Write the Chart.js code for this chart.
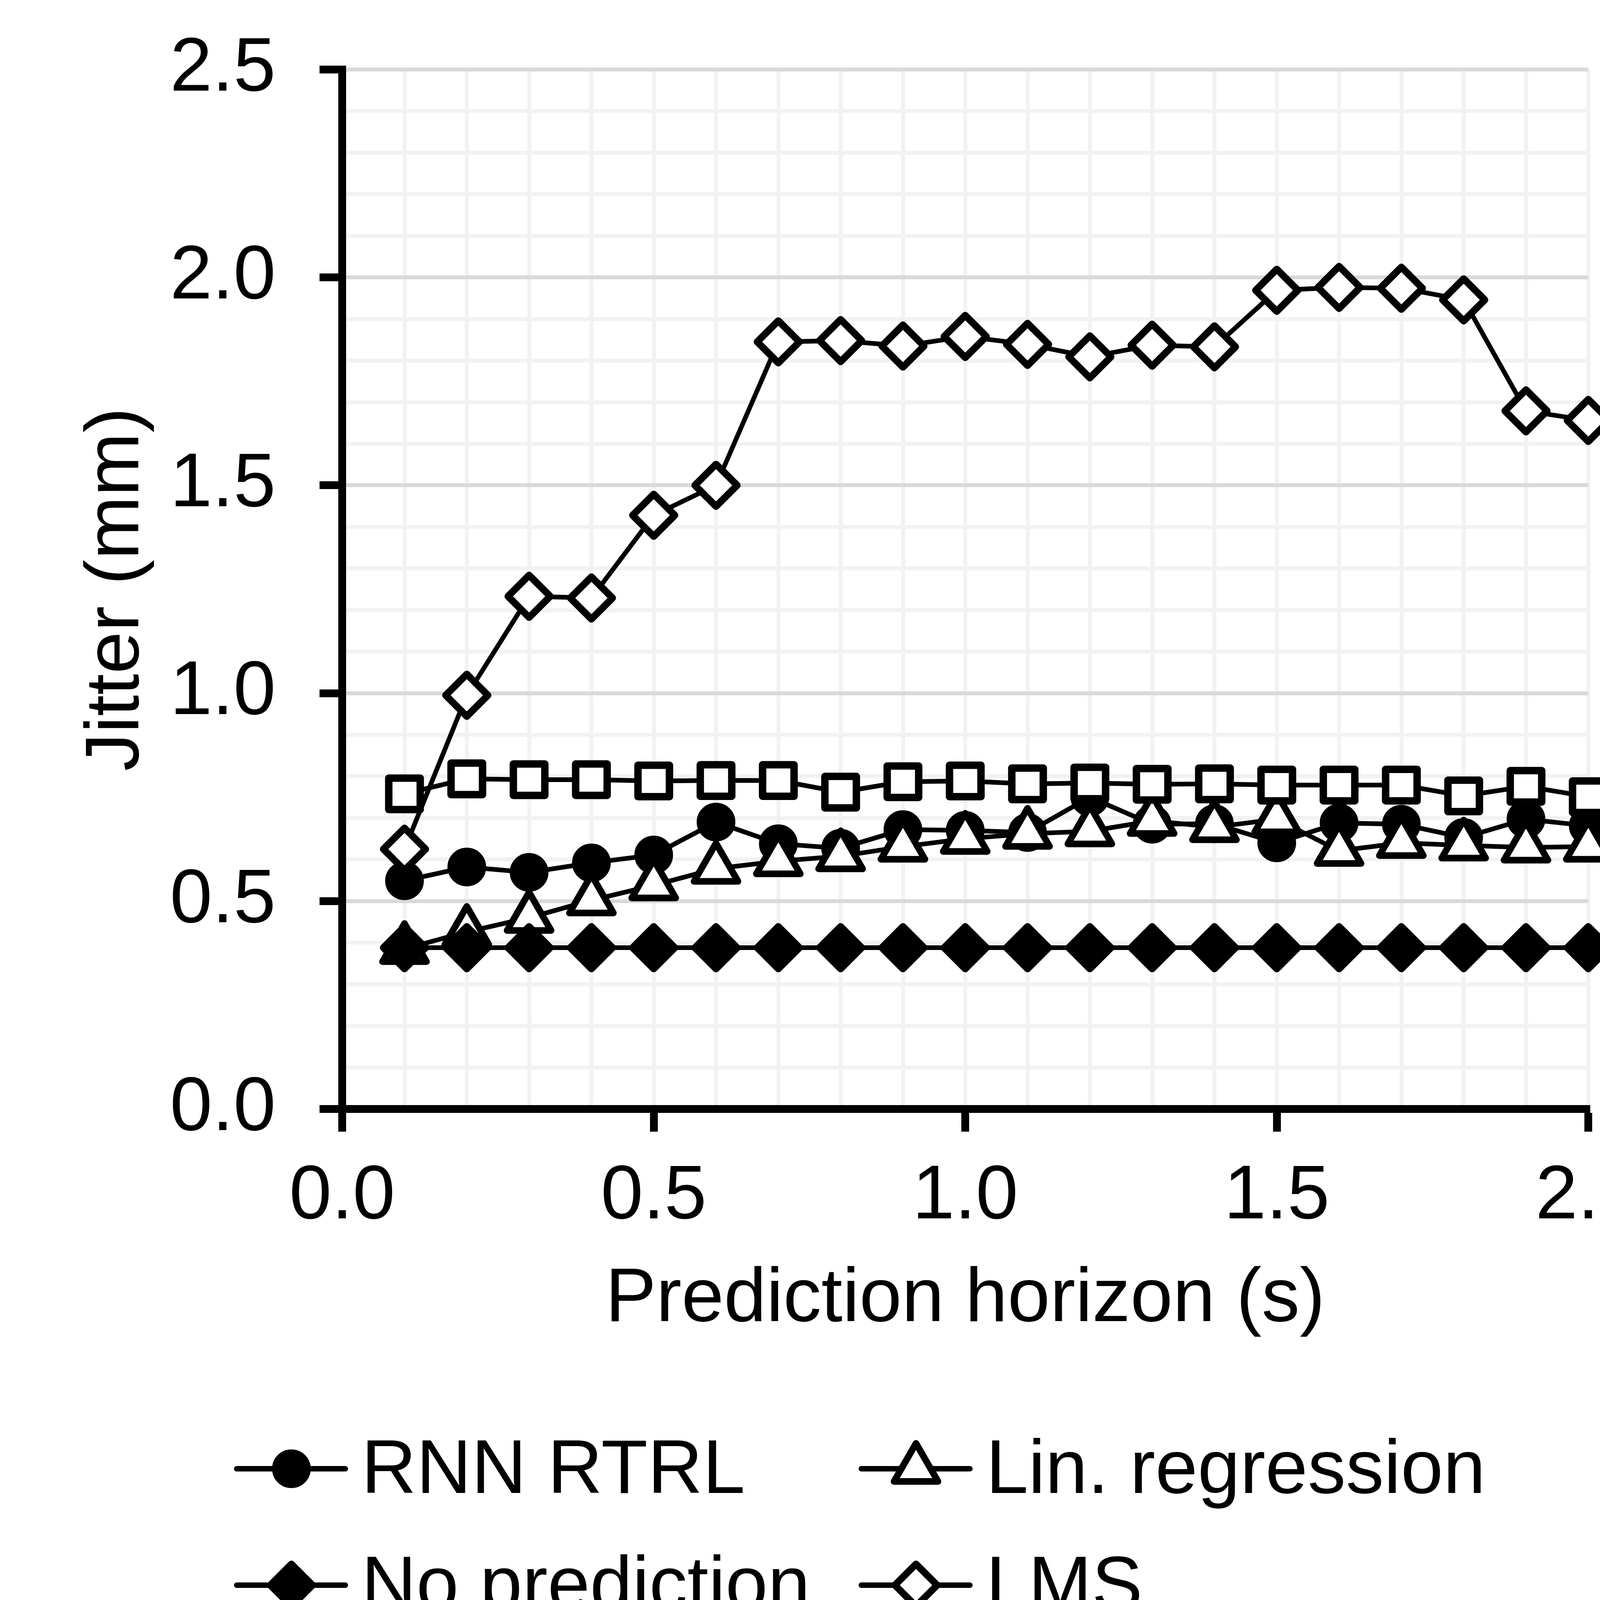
<!DOCTYPE html>
<html>
<head>
<meta charset="utf-8">
<title>Jitter vs prediction horizon</title>
<script src="https://cdn.jsdelivr.net/npm/chart.js@4.4.0/dist/chart.umd.min.js"></script>
<style>
  html, body { margin: 0; padding: 0; background: #fff; }
  canvas { display: block; }
</style>
</head>
<body>
<canvas id="chart" width="4354" height="4570"></canvas>
<script>
// === Dados ===
const horizons = [0.1, 0.2, 0.3, 0.4, 0.5, 0.6, 0.7, 0.8, 0.9, 1.0,
                  1.1, 1.2, 1.3, 1.4, 1.5, 1.6, 1.7, 1.8, 1.9, 2.0];

const rnnRtrl  = [0.549, 0.582, 0.569, 0.592, 0.611, 0.690, 0.638, 0.627, 0.672, 0.670,
                  0.665, 0.750, 0.685, 0.686, 0.640, 0.688, 0.685, 0.653, 0.697, 0.681];
const linReg   = [0.385, 0.426, 0.460, 0.502, 0.538, 0.578, 0.596, 0.608, 0.631, 0.650,
                  0.662, 0.668, 0.693, 0.678, 0.697, 0.621, 0.640, 0.634, 0.629, 0.631];
const noPred   = [0.388, 0.388, 0.388, 0.388, 0.388, 0.388, 0.388, 0.388, 0.388, 0.388,
                  0.388, 0.388, 0.388, 0.388, 0.388, 0.388, 0.388, 0.388, 0.388, 0.388];
const lms      = [0.625, 0.995, 1.233, 1.229, 1.428, 1.500, 1.845, 1.848, 1.835, 1.858,
                  1.839, 1.809, 1.837, 1.833, 1.969, 1.976, 1.974, 1.946, 1.679, 1.656];
const rnnUoro  = [0.758, 0.794, 0.792, 0.792, 0.789, 0.790, 0.790, 0.762, 0.787, 0.789,
                  0.782, 0.784, 0.781, 0.782, 0.779, 0.779, 0.779, 0.753, 0.776, 0.751];

// ordem da legenda (preenche linha a linha, 2 colunas)
const seriesLabels = ['RNN RTRL', 'Lin. regression', 'No prediction', 'LMS', 'RNN UORO'];
const seriesValues = [rnnRtrl, linReg, noPred, lms, rnnUoro];

const xMin = 0, xMax = 2.0, xStep = 0.1;
const yMin = 0, yMax = 2.5, yStep = 0.1;
const majorEvery = 0.5;

// === Estilo ===
const FONT = "'Liberation Sans', Arial, sans-serif";
const FONT_SIZE = 195;

const markerStyles = {
  'RNN RTRL':        { pointStyle: 'circle',   radius: 40, borderWidth: 19, fill: '#000', order: 5 },
  'Lin. regression': { pointStyle: 'triangle', radius: 65, borderWidth: 17, fill: '#fff', order: 4 },
  'No prediction':   { pointStyle: 'rectRot',  radius: 54, borderWidth: 18, fill: '#000', order: 2 },
  'LMS':             { pointStyle: 'rectRot',  radius: 54, borderWidth: 18, fill: '#fff', order: 1 },
  'RNN UORO':        { pointStyle: 'rect',     radius: 57, borderWidth: 19, fill: '#fff', order: 3 }
};

function isMajor(v) {
  const k = v / majorEvery;
  return Math.abs(k - Math.round(k)) < 1e-6;
}

const datasets = seriesLabels.map((label, i) => {
  const m = markerStyles[label];
  return {
    label: label,
    data: horizons.map((h, j) => ({ x: h, y: seriesValues[i][j] })),
    borderColor: '#000',
    borderWidth: 12,
    tension: 0,
    pointStyle: m.pointStyle,
    pointRadius: m.radius,
    pointBorderWidth: m.borderWidth,
    pointBackgroundColor: m.fill,
    pointBorderColor: '#000',
    pointHoverRadius: m.radius,
    order: m.order,
    clip: false
  };
});

// marcadores com cantos arredondados (como no original)
const roundJoins = {
  id: 'roundJoins',
  beforeDatasetsDraw(chart) { chart.ctx.lineJoin = 'round'; },
  afterDatasetsDraw(chart) { chart.ctx.lineJoin = 'miter'; }
};

// legenda em grade 2 colunas x 3 linhas
const gridLegend = {
  id: 'gridLegend',
  afterDraw(chart) {
    const ctx = chart.ctx;
    const x0 = 606, colW = 1599, y0 = 3760, rowH = 298;
    const lineLen = 278, markerDx = 140, textDx = 319, baseDy = 62;
    ctx.save();
    chart.data.datasets.forEach((ds, i) => {
      const col = i % 2, row = Math.floor(i / 2);
      const x = x0 + col * colW;
      const y = y0 + row * rowH;
      ctx.lineCap = 'round';
      ctx.lineJoin = 'round';
      ctx.strokeStyle = '#000';
      ctx.lineWidth = 14;
      ctx.beginPath();
      ctx.moveTo(x, y);
      ctx.lineTo(x + lineLen, y);
      ctx.stroke();

      ctx.lineCap = 'butt';
      ctx.fillStyle = ds.pointBackgroundColor;
      ctx.lineWidth = ds.pointBorderWidth;
      if (Chart.helpers && Chart.helpers.drawPoint) {
        Chart.helpers.drawPoint(ctx, {
          pointStyle: ds.pointStyle, radius: ds.pointRadius,
          rotation: 0, borderWidth: ds.pointBorderWidth
        }, x + markerDx, y);
      } else {
        ctx.beginPath();
        ctx.arc(x + markerDx, y, ds.pointRadius, 0, Math.PI * 2);
        ctx.fill();
        ctx.stroke();
      }

      ctx.fillStyle = '#000';
      ctx.font = FONT_SIZE + 'px ' + FONT;
      ctx.textAlign = 'left';
      ctx.textBaseline = 'alphabetic';
      ctx.fillText(ds.label, x + textDx, y + baseDy);
    });
    ctx.restore();
  }
};

function axisGrid(darkMajor) {
  return {
    color: c => (darkMajor && isMajor(c.tick.value)) ? '#d9d9d9' : '#f2f2f2',
    lineWidth: 10,
    drawTicks: true,
    tickLength: 58,
    tickWidth: 20,
    tickColor: c => isMajor(c.tick.value) ? '#000' : 'rgba(0,0,0,0)'
  };
}

Chart.defaults.font.family = FONT;
Chart.defaults.color = '#000';

new Chart(document.getElementById('chart'), {
  type: 'line',
  data: { datasets: datasets },
  options: {
    responsive: false,
    devicePixelRatio: 1,
    animation: false,
    layout: { padding: { left: 183, right: 288, top: 178, bottom: 1125 } },
    plugins: {
      legend: { display: false },
      tooltip: { enabled: false }
    },
    scales: {
      x: {
        type: 'linear',
        min: xMin, max: xMax,
        grid: axisGrid(false),
        border: { display: true, color: '#000', width: 20 },
        ticks: {
          stepSize: xStep,
          autoSkip: false,
          maxRotation: 0, minRotation: 0,
          padding: 51,
          font: { size: FONT_SIZE },
          color: '#000',
          callback: v => isMajor(v) ? v.toFixed(1) : ''
        },
        title: {
          display: true,
          text: 'Prediction horizon (s)',
          font: { size: FONT_SIZE },
          color: '#000',
          padding: 0
        },
        afterFit: s => { s.height = 606; s.paddingLeft = 0; s.paddingRight = 0; }
      },
      y: {
        type: 'linear',
        min: yMin, max: yMax,
        grid: axisGrid(true),
        border: { display: true, color: '#000', width: 20 },
        ticks: {
          stepSize: yStep,
          autoSkip: false,
          padding: 112,
          font: { size: FONT_SIZE },
          color: '#000',
          callback: v => isMajor(v) ? v.toFixed(1) : ''
        },
        title: {
          display: true,
          text: 'Jitter (mm)',
          font: { size: FONT_SIZE },
          color: '#000',
          padding: 0
        },
        // largura fixa e sem folga extra em cima/baixo (o padding dos ticks empurrava a área)
        afterFit: s => { s.width = 693; s.paddingTop = 0; s.paddingBottom = 0; }
      }
    }
  },
  plugins: [roundJoins, gridLegend]
});
</script>
</body>
</html>
